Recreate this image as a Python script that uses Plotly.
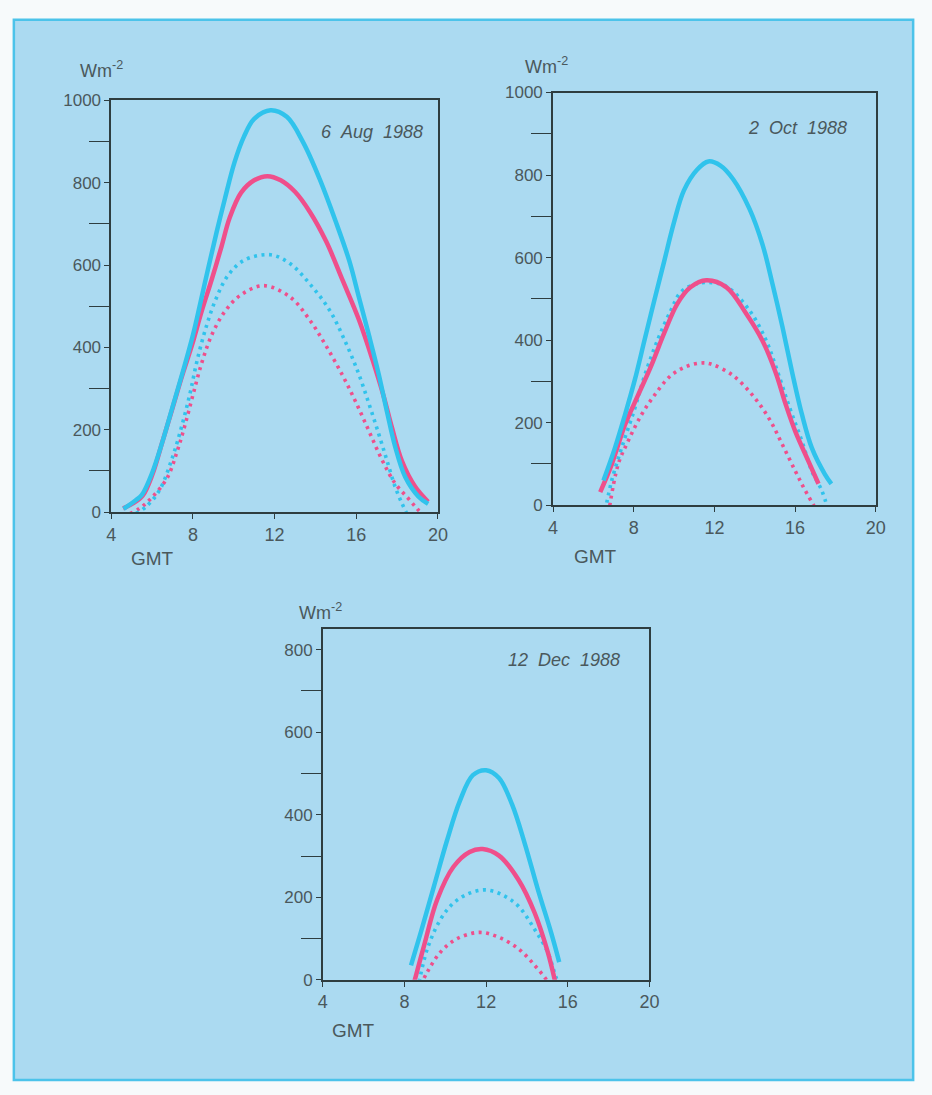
import plotly.graph_objects as go

# ---------------- data (hours GMT, irradiance W m-2) ----------------
aug_blue_solid_h = [4.6, 5.2, 5.5, 6.0, 6.5, 7.0, 7.5, 8.0, 8.35, 8.76, 9.16, 9.56, 10.04, 10.5, 11.0, 11.8, 12.6, 13.4, 14.2, 15.0, 15.66, 16.14, 16.63, 17.1, 17.5, 17.9, 18.4, 19.04, 19.52]
aug_blue_solid_v = [8, 29, 42, 95, 170, 255, 340, 430, 505, 595, 680, 760, 850, 912, 955, 976, 960, 898, 810, 705, 610, 520, 428, 335, 245, 160, 85, 38, 20]
aug_pink_solid_h = [4.58, 5.06, 5.54, 6.02, 6.5, 6.99, 7.47, 7.95, 8.43, 8.92, 9.4, 9.8, 10.36, 11.0, 11.65, 12.3, 13.0, 13.73, 14.53, 15.34, 16.14, 16.79, 17.35, 17.75, 18.23, 18.88, 19.52]
aug_pink_solid_v = [9, 21, 40, 92, 170, 251, 331, 405, 488, 565, 645, 715, 776, 806, 816, 806, 778, 729, 657, 562, 466, 371, 280, 205, 125, 62, 25]
aug_blue_dot_h = [5.22, 5.7, 6.35, 6.99, 7.47, 7.87, 8.19, 8.59, 9.08, 9.72, 10.52, 11.8, 12.77, 13.73, 14.7, 15.5, 16.14, 16.63, 17.1, 17.5, 17.9, 18.23, 18.55]
aug_blue_dot_v = [-3, 13, 52, 132, 212, 291, 365, 440, 512, 575, 612, 625, 603, 554, 490, 410, 333, 262, 190, 126, 62, 22, -11]
aug_pink_dot_h = [4.58, 5.38, 6.02, 6.75, 7.23, 7.63, 8.03, 8.43, 8.92, 9.56, 10.36, 11.48, 12.77, 13.73, 14.53, 15.34, 15.98, 16.63, 17.27, 17.9, 18.55, 19.04, 19.52]
aug_pink_dot_v = [-11, 9, 37, 84, 148, 215, 290, 362, 430, 487, 528, 550, 522, 466, 403, 331, 267, 196, 126, 70, 33, 5, -19]

oct_blue_solid_h = [6.5, 7.07, 7.56, 8.05, 8.54, 9.02, 9.51, 10.0, 10.49, 11.14, 11.7, 12.3, 12.93, 13.74, 14.39, 14.88, 15.37, 15.85, 16.34, 16.83, 17.48, 17.8]
oct_blue_solid_v = [60, 139, 218, 303, 401, 496, 591, 686, 763, 813, 833, 823, 790, 718, 631, 536, 433, 323, 220, 139, 75, 52]
oct_pink_solid_h = [6.34, 6.91, 7.56, 8.21, 8.86, 9.51, 10.16, 10.81, 11.6, 12.6, 13.58, 14.39, 15.04, 15.53, 16.01, 16.66, 17.16]
oct_pink_solid_v = [32, 99, 194, 266, 337, 417, 488, 528, 545, 528, 464, 398, 321, 245, 179, 107, 52]
oct_blue_dot_h = [6.59, 6.91, 7.4, 8.05, 8.54, 9.19, 9.84, 10.33, 11.0, 11.7, 12.6, 13.74, 14.55, 15.04, 15.69, 16.34, 16.83, 17.32, 17.64]
oct_blue_dot_v = [-12, 60, 139, 234, 314, 401, 472, 516, 535, 540, 530, 472, 401, 337, 242, 155, 83, 36, -12]
oct_pink_dot_h = [6.75, 7.23, 7.72, 8.37, 9.02, 9.84, 10.65, 11.46, 11.95, 12.93, 13.9, 14.71, 15.37, 16.01, 16.5, 17.16]
oct_pink_dot_v = [-20, 99, 155, 218, 266, 314, 337, 345, 340, 314, 266, 210, 147, 83, 36, -20]

dec_blue_solid_h = [8.32, 8.8, 9.44, 10.08, 10.71, 11.35, 12.0, 12.63, 13.27, 13.9, 14.54, 15.18, 15.58]
dec_blue_solid_v = [35, 115, 226, 337, 433, 496, 508, 489, 425, 329, 218, 115, 43]
dec_pink_solid_h = [8.4, 8.96, 9.6, 10.4, 11.19, 11.83, 12.63, 13.59, 14.38, 15.02, 15.42]
dec_pink_solid_v = [-20, 83, 194, 274, 310, 317, 301, 242, 162, 67, -13]
dec_blue_dot_h = [8.72, 9.12, 9.76, 10.4, 11.19, 11.99, 12.79, 13.59, 14.38, 15.02, 15.34, 15.5]
dec_blue_dot_v = [-5, 75, 146, 186, 210, 218, 206, 178, 122, 67, 19, -5]
dec_pink_dot_h = [8.64, 9.12, 9.76, 10.55, 11.67, 12.63, 13.59, 14.38, 15.02, 15.42]
dec_pink_dot_v = [-29, 19, 67, 99, 115, 103, 75, 35, -5, -45]

x_ticks = [4, 8, 12, 16, 20]
panel_titles = ["6&nbsp;&nbsp;Aug&nbsp;&nbsp;1988", "2&nbsp;&nbsp;Oct&nbsp;&nbsp;1988", "12&nbsp;&nbsp;Dec&nbsp;&nbsp;1988"]
y_unit = "Wm<sup>-2</sup>"
x_unit = "GMT"

# ---------------- styling ----------------
FW, FH = 932, 1095
BLUE = "#30c3ec"
PINK = "#ef4f8b"
BG = "#abdaf1"
AX = "#2e3d40"
TXT = "#4a585c"
FONT = "Liberation Sans, Arial, sans-serif"


def fx(X):
    return X / FW


def fy(Y):
    return (FH - Y) / FH


fig = go.Figure()

panels = [
    dict(ax="", data=[(aug_pink_dot_h, aug_pink_dot_v, PINK, True), (aug_blue_dot_h, aug_blue_dot_v, BLUE, True),
                      (aug_pink_solid_h, aug_pink_solid_v, PINK, False), (aug_blue_solid_h, aug_blue_solid_v, BLUE, False)],
         px=(108, 440), py=(512, 93), yr=(0, 1000)),
    dict(ax="2", data=[(oct_pink_dot_h, oct_pink_dot_v, PINK, True), (oct_blue_dot_h, oct_blue_dot_v, BLUE, True),
                       (oct_pink_solid_h, oct_pink_solid_v, PINK, False), (oct_blue_solid_h, oct_blue_solid_v, BLUE, False)],
         px=(557, 885), py=(505, 85), yr=(0, 1000)),
    dict(ax="3", data=[(dec_pink_dot_h, dec_pink_dot_v, PINK, True), (dec_blue_dot_h, dec_blue_dot_v, BLUE, True),
                       (dec_pink_solid_h, dec_pink_solid_v, PINK, False), (dec_blue_solid_h, dec_blue_solid_v, BLUE, False)],
         px=(323, 655), py=(988, 631), yr=(0, 850)),
]

layout_axes = {}
for i, p in enumerate(panels):
    sfx = p["ax"]
    xref = "x" + sfx
    yref = "y" + sfx
    for (hx, vy, col, dotted) in p["data"]:
        fig.add_trace(go.Scatter(
            x=hx, y=vy, mode="lines", xaxis=xref, yaxis=yref,
            line=dict(color=col, width=3.6 if dotted else 4.5,
                      dash="3px,4.5px" if dotted else "solid", shape="spline", smoothing=1.0),
            showlegend=False, hoverinfo="skip"))
    layout_axes["xaxis" + sfx] = dict(
        domain=[fx(p["px"][0]), fx(p["px"][1])], range=[4, 20], anchor=yref,
        tickvals=x_ticks, ticktext=[str(t) for t in x_ticks],
        ticks="outside", ticklen=5, tickcolor=AX, tickwidth=1.2,
        showline=True, linecolor=AX, linewidth=1.6, mirror=True, showgrid=False, zeroline=False,
        tickfont=dict(family=FONT, size=18, color=TXT), fixedrange=True)
    layout_axes["yaxis" + sfx] = dict(
        domain=[fy(p["py"][0]), fy(p["py"][1])], range=list(p["yr"]), anchor=xref, dtick=200, tick0=0,
        ticks="outside", ticklen=5, tickcolor=AX, tickwidth=1.2,
        minor=dict(dtick=100, tick0=0, ticks="outside", ticklen=20, tickcolor=AX, tickwidth=1.2),
        showline=True, linecolor=AX, linewidth=1.6, mirror=True, showgrid=False, zeroline=False,
        tickfont=dict(family=FONT, size=17, color=TXT), fixedrange=True)

fig.update_layout(**layout_axes)

annotations = []
for (x, y) in [(98, 62), (550, 57), (321, 613)]:
    annotations.append(dict(x=fx(x), y=fy(y), xref="paper", yref="paper", text=y_unit,
                            xanchor="center", yanchor="middle",
                            showarrow=False, font=dict(family=FONT, size=18, color=TXT)))
for (x, y) in [(150, 559), (600, 557), (354, 1040)]:
    annotations.append(dict(x=fx(x), y=fy(y), xref="paper", yref="paper", text=x_unit,
                            xanchor="center", yanchor="middle",
                            showarrow=False, font=dict(family=FONT, size=19, color=TXT)))
for t, (x, y) in zip(panel_titles, [(427, 125), (858, 121), (627, 663)]):
    annotations.append(dict(x=fx(x), y=fy(y), xref="paper", yref="paper", text=f"<i>{t}</i>",
                            xanchor="right", yanchor="middle",
                            showarrow=False, font=dict(family=FONT, size=18, color=TXT)))

fig.update_layout(
    width=FW, height=FH, margin=dict(l=0, r=0, t=0, b=0),
    paper_bgcolor="#f7fafb", plot_bgcolor="rgba(0,0,0,0)",
    annotations=annotations,
    shapes=[dict(type="rect", xref="paper", yref="paper", layer="below",
                 x0=fx(9), x1=fx(923), y0=fy(1090), y1=fy(11),
                 fillcolor=BG, line=dict(color="#4cc3ea", width=2.5))],
)

page_fix = (
    "document.documentElement.style.margin='0';"
    "document.body.style.margin='0';document.body.style.padding='0';"
    "var gd=document.querySelector('.plotly-graph-div');"
    "if(gd&&gd.parentNode){gd.parentNode.style.fontSize='0';gd.parentNode.style.lineHeight='0';}"
    "document.documentElement.style.overflow='hidden';"
)

fig.write_html("out.html", config={"displayModeBar": False}, post_script=page_fix)
